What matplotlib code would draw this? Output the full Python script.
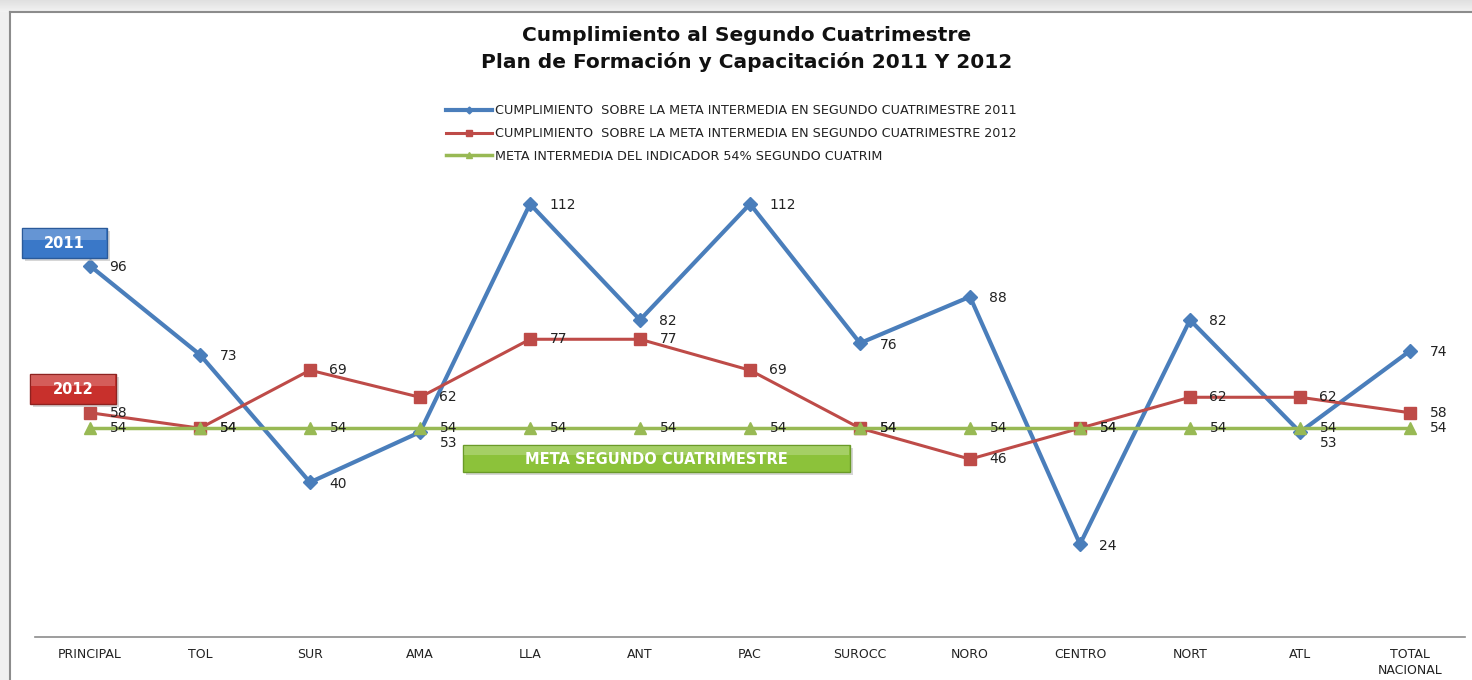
import matplotlib
matplotlib.use("Agg")
import matplotlib.pyplot as plt
import numpy as np
from matplotlib.patches import Rectangle

categorias = ["PRINCIPAL", "TOL", "SUR", "AMA", "LLA", "ANT", "PAC",
              "SUROCC", "NORO", "CENTRO", "NORT", "ATL", "TOTAL\nNACIONAL"]
cumplimiento_2011 = [96, 73, 40, 53, 112, 82, 112, 76, 88, 24, 82, 53, 74]
cumplimiento_2012 = [58, 54, 69, 62, 77, 77, 69, 54, 46, 54, 62, 62, 58]
meta_intermedia = [54] * 13

titulo = "Cumplimiento al Segundo Cuatrimestre\nPlan de Formación y Capacitación 2011 Y 2012"
leyendas = ["CUMPLIMIENTO  SOBRE LA META INTERMEDIA EN SEGUNDO CUATRIMESTRE 2011",
            "CUMPLIMIENTO  SOBRE LA META INTERMEDIA EN SEGUNDO CUATRIMESTRE 2012",
            "META INTERMEDIA DEL INDICADOR 54% SEGUNDO CUATRIM"]

AZUL = "#4a7ebb"
ROJO = "#be4b48"
VERDE = "#98b954"

W, H = 1472, 680
fig = plt.figure(figsize=(W / 100, H / 100), dpi=100)
fig.patch.set_facecolor("white")

# overlay in pixel coordinates for the frame and the labelled boxes
bg = fig.add_axes([0, 0, 1, 1], zorder=10)
bg.set_xlim(0, W)
bg.set_ylim(H, 0)
bg.axis("off")
bg.patch.set_visible(False)
grad = np.linspace(0.88, 0.95, 12)[:, None] * np.ones((12, 2))
bg.imshow(np.dstack([grad] * 3), extent=[0, W, 12, 0], aspect="auto",
          interpolation="bilinear", zorder=0)
bg.add_patch(Rectangle((0, 12), 10, H, color="#f0f0f0", lw=0))
bg.plot([10, W], [12, 12], color="#8c8c8c", lw=1.5)
bg.plot([10, 10], [12, H], color="#8c8c8c", lw=1.5)

# plot area: 0 at y=637px, 120 at y=173px
ax = fig.add_axes([35 / W, 1 - 637 / H, 1430 / W, (637 - 173) / H])
x = np.arange(len(categorias))
ax.set_xlim(-0.5, len(categorias) - 0.5)
ax.set_ylim(0, 120)
for s in ["left", "right", "top"]:
    ax.spines[s].set_visible(False)
ax.spines["bottom"].set_color("#8c8c8c")
ax.spines["bottom"].set_linewidth(1.2)
ax.set_yticks([])
ax.set_xticks(x)
ax.set_xticklabels(categorias, fontsize=9, family="DejaVu Sans", color="#222222",
                   linespacing=1.25)
ax.tick_params(axis="x", length=0, pad=8)

l1, = ax.plot(x, cumplimiento_2011, color=AZUL, lw=3, marker="D", ms=7,
              label=leyendas[0], zorder=3)
l2, = ax.plot(x, cumplimiento_2012, color=ROJO, lw=2.2, marker="s", ms=9,
              label=leyendas[1], zorder=4)
l3, = ax.plot(x, meta_intermedia, color=VERDE, lw=2.5, marker="^", ms=9,
              label=leyendas[2], zorder=5)

for serie, dy in ((cumplimiento_2011, -1), (cumplimiento_2012, 0), (meta_intermedia, 0)):
    for xi, v in zip(x, serie):
        off = -8 if v == 53 else dy
        ax.annotate(str(v), (xi, v), xytext=(14, off), textcoords="offset points",
                    ha="left", va="center", fontsize=10, family="DejaVu Sans",
                    color="#222222", zorder=6)

leg = fig.legend(handles=[l1, l2, l3], loc="upper left",
                 bbox_to_anchor=(434 / W, 1 - 93 / H), frameon=False,
                 prop={"family": "DejaVu Sans", "size": 9.2},
                 handlelength=3.6, handletextpad=0.3, labelspacing=0.75,
                 markerscale=0.5)
for t in leg.get_texts():
    t.set_color("#222222")

fig.text(747 / W, 1 - 49 / H, titulo, ha="center", va="center", fontsize=14.5,
         fontweight="bold", family="DejaVu Sans", linespacing=1.45, color="#111111")


def caja(x0, y0, w, h, color, borde, texto, fs):
    bg.add_patch(Rectangle((x0 + 3, y0 + 3), w, h, color="#bbbbbb", alpha=0.6, lw=0, zorder=1))
    bg.add_patch(Rectangle((x0, y0), w, h, facecolor=color, edgecolor=borde, lw=1, zorder=2))
    bg.add_patch(Rectangle((x0 + 1, y0 + 1), w - 2, h * 0.35, facecolor="white",
                           alpha=0.22, lw=0, zorder=3))
    bg.text(x0 + w / 2, y0 + h / 2 + 1, texto, ha="center", va="center",
            color="white", fontsize=fs, fontweight="bold", family="DejaVu Sans", zorder=4)


caja(22, 228, 85, 30, "#3a78c8", "#2a5a9a", "2011", 10.5)
caja(30, 374, 86, 30, "#c8302c", "#8e2220", "2012", 10.5)
caja(463, 445, 387, 27, "#8cc23a", "#6a9a28", "META SEGUNDO CUATRIMESTRE", 10.5)

fig.savefig("out.png", dpi=100, facecolor="white")
